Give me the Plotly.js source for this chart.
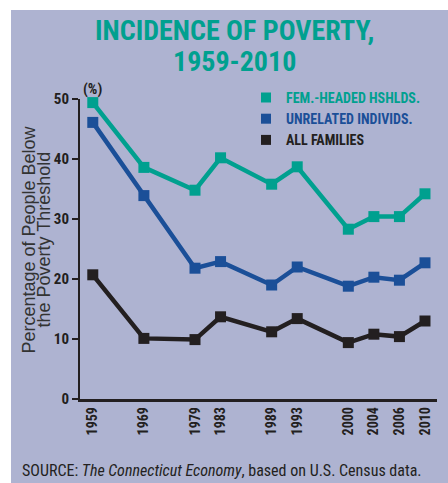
<!DOCTYPE html>
<html>
<head>
<meta charset="utf-8">
<script src="https://cdn.plot.ly/plotly-3.0.1.min.js"></script>
<style>
  html, body { margin: 0; padding: 0; background: #ffffff; }
  #chart { position: absolute; left: 11px; top: 10px; width: 437px; height: 473px; }
</style>
</head>
<body>
<div id="chart"></div>
<script>
// ---- data ----
const years = ['1959', '1969', '1979', '1983', '1989', '1993', '2000', '2004', '2006', '2010'];
const femHeaded = [49.4, 38.6, 34.8, 40.2, 35.8, 38.7, 28.3, 30.4, 30.4, 34.2];
const unrelated = [46.1, 33.9, 21.8, 22.9, 19.0, 22.0, 18.8, 20.3, 19.8, 22.7];
const allFamilies = [20.7, 10.1, 9.9, 13.7, 11.2, 13.4, 9.4, 10.8, 10.4, 13.0];
const seriesNames = ['FEM.-HEADED HSHLDS.', 'UNRELATED INDIVIDS.', 'ALL FAMILIES'];
const yTicks = [0, 10, 20, 30, 40, 50];
// category order with empty slots reproducing the uneven year spacing
const slotOrder = ['1959', 'gap1', '1969', 'gap2', '1979', '1983', 'gap3', '1989', '1993', 'gap4', '2000', '2004', '2006', '2010'];
const titleLines = ['INCIDENCE OF POVERTY,', '1959-2010'];
const yTitleLines = ['Percentage of People Below', 'the Poverty Threshold'];

// ---- style ----
const TEAL = '#00a08f', BLUE = '#1b4f98', BLACK = '#231f20', BG = '#aeb3d1';
const NARROW = '"Roboto Condensed", "DejaVu Sans Condensed", sans-serif';
const PLAIN = '"Liberation Sans", Arial, sans-serif';

function lineTrace(y, color) {
  return {
    type: 'scatter', mode: 'lines+markers', x: years, y: y,
    line: { color: color, width: 4.5 },
    marker: { symbol: 'square', size: 11, color: color },
    showlegend: false, hoverinfo: 'x+y', cliponaxis: false
  };
}
function legendTrace(name, color) {
  return {
    type: 'scatter', mode: 'markers', x: [null], y: [null],
    name: '<span style="color:' + color + '">' + name + '</span>',
    marker: { symbol: 'square', size: 10, color: color }, showlegend: true
  };
}

const data = [
  lineTrace(femHeaded, TEAL),
  lineTrace(unrelated, BLUE),
  lineTrace(allFamilies, BLACK),
  legendTrace(seriesNames[0], TEAL),
  legendTrace(seriesNames[1], BLUE),
  legendTrace(seriesNames[2], BLACK)
];

function note(text, x, y, font, extra) {
  return Object.assign({
    text: text, xref: 'paper', yref: 'paper', x: x, y: y,
    xanchor: 'center', yanchor: 'middle', showarrow: false, font: font
  }, extra || {});
}

const layout = {
  width: 437, height: 473,
  margin: { l: 69, r: 11, t: 89, b: 84 },
  paper_bgcolor: BG, plot_bgcolor: BG,
  showlegend: true,
  xaxis: {
    type: 'category', categoryorder: 'array', categoryarray: slotOrder,
    range: [-0.5, 13.47], automargin: false,
    tickmode: 'array', tickvals: years, ticktext: years,
    tickangle: -90, ticks: '', showgrid: false, zeroline: false,
    showline: true, linecolor: BLACK, linewidth: 2.5,
    tickfont: { family: NARROW, size: 14, color: BLACK, weight: 'bold' },
    fixedrange: true
  },
  yaxis: {
    range: [0, 50], tickmode: 'array', tickvals: yTicks, automargin: false,
    ticks: 'outside', ticklen: 6, tickwidth: 2, tickcolor: BLACK,
    showgrid: false, zeroline: false,
    showline: true, linecolor: BLACK, linewidth: 2,
    tickfont: { family: NARROW, size: 15, color: BLACK, weight: 'bold' },
    fixedrange: true
  },
  legend: {
    x: 0.465, xanchor: 'left', y: 1.057, yanchor: 'top',
    bgcolor: 'rgba(0,0,0,0)', borderwidth: 0,
    font: { family: NARROW, size: 14, weight: 'bold' },
    itemwidth: 30, tracegroupgap: 0
  },
  annotations: [
    note(titleLines[0], 0.434, 1.23, { family: NARROW, size: 28, color: TEAL, weight: 'bold' }),
    note(titleLines[1], 0.434, 1.125, { family: NARROW, size: 28, color: TEAL, weight: 'bold' }),
    note(yTitleLines[0], -0.144, 0.53, { family: PLAIN, size: 18, color: '#333333' }, { textangle: -90 }),
    note(yTitleLines[1], -0.102, 0.53, { family: PLAIN, size: 18, color: '#333333' }, { textangle: -90 }),
    note('(%)', 0.034, 1.033, { family: NARROW, size: 15, color: BLACK, weight: 'bold' }),
    note('SOURCE: <i>The Connecticut Economy</i>, based on U.S. Census data.', -0.168, -0.237,
      { family: NARROW, size: 16, color: BLACK }, { xanchor: 'left' })
  ]
};

Plotly.newPlot('chart', data, layout, { displayModeBar: false, staticPlot: true });
</script>
</body>
</html>
